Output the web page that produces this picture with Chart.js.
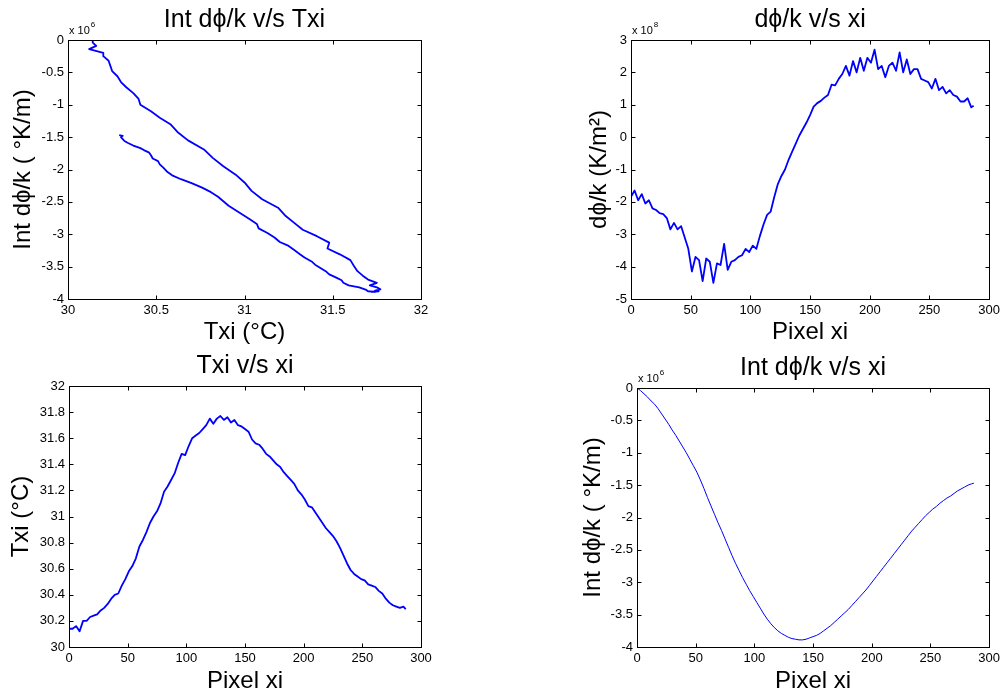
<!DOCTYPE html>
<html>
<head>
<meta charset="utf-8">
<script src="https://cdn.jsdelivr.net/npm/chart.js@4.4.1/dist/chart.umd.min.js"></script>
<style>
  html, body { margin: 0; padding: 0; background: #fff; }
  #page { position: relative; width: 1004px; height: 699px; overflow: hidden; background: #fff; }
  .plot { position: absolute; }
</style>
</head>
<body>
<div id="page">
  <div class="plot" style="left:0;top:0;width:502px;height:360px"><canvas id="c1"></canvas></div>
  <div class="plot" style="left:502px;top:0;width:502px;height:360px"><canvas id="c2"></canvas></div>
  <div class="plot" style="left:0;top:340px;width:502px;height:359px"><canvas id="c3"></canvas></div>
  <div class="plot" style="left:502px;top:340px;width:502px;height:359px"><canvas id="c4"></canvas></div>
</div>
<script>
// Pixel positions along the profile (xi)
var xi = [0, 3, 6, 9, 12, 15, 18, 21, 24, 27,
  30, 33, 36, 39, 42, 45, 48, 51, 54, 57,
  60, 63, 66, 69, 72, 75, 78, 81, 84, 87,
  90, 93, 96, 99, 102, 105, 108, 111, 114, 117,
  120, 123, 126, 129, 132, 135, 138, 141, 144, 147,
  150, 153, 156, 159, 162, 165, 168, 171, 174, 177,
  180, 183, 186, 189, 192, 195, 198, 201, 204, 207,
  210, 213, 216, 219, 222, 225, 228, 231, 234, 237,
  240, 243, 246, 249, 252, 255, 258, 261, 264, 267,
  270, 273, 276, 279, 282, 285, 287];

// Temperature Txi (°C)
var txi = [30.14, 30.14, 30.16, 30.12, 30.2, 30.2, 30.23, 30.24, 30.25, 30.28,
  30.3, 30.33, 30.37, 30.4, 30.41, 30.47, 30.52, 30.58, 30.62, 30.68,
  30.77, 30.82, 30.88, 30.95, 31.0, 31.04, 31.1, 31.19, 31.23, 31.28,
  31.33, 31.41, 31.48, 31.47, 31.54, 31.6, 31.62, 31.64, 31.67, 31.7,
  31.75, 31.71, 31.75, 31.77, 31.74, 31.76, 31.72, 31.74, 31.7, 31.69,
  31.67, 31.65, 31.59, 31.56, 31.55, 31.52, 31.48, 31.46, 31.43, 31.4,
  31.38, 31.34, 31.31, 31.28, 31.25, 31.2, 31.17, 31.13, 31.08, 31.07,
  31.03, 30.99, 30.95, 30.91, 30.88, 30.85, 30.81, 30.76, 30.7, 30.64,
  30.59, 30.56, 30.54, 30.52, 30.51, 30.48, 30.47, 30.46, 30.43, 30.41,
  30.37, 30.34, 30.32, 30.31, 30.3, 30.31, 30.29];

// dphi/k (x 1e8 K/m^2)
var dphi = [-1.84, -1.65, -1.95, -1.76, -2.05, -1.95, -2.2, -2.25, -2.35, -2.38,
  -2.5, -2.85, -2.65, -2.85, -2.75, -3.1, -3.45, -4.15, -3.7, -3.8,
  -4.45, -3.75, -3.85, -4.5, -3.9, -3.95, -3.3, -4.1, -3.85, -3.8,
  -3.7, -3.65, -3.45, -3.55, -3.35, -3.45, -3.05, -2.7, -2.4, -2.3,
  -1.85, -1.45, -1.2, -1.0, -0.7, -0.45, -0.2, 0.05, 0.25, 0.45,
  0.68, 0.94, 1.05, 1.12, 1.22, 1.3, 1.62, 1.6, 1.8, 1.95,
  2.2, 1.9, 2.35, 2.0, 2.45, 2.05, 2.45, 2.3, 2.7, 2.1,
  2.2, 1.85, 2.2, 2.3, 2.05, 2.62, 2.0, 2.4, 1.95, 2.1,
  2.1, 1.8, 1.75, 1.7, 1.5, 1.8, 1.45, 1.55, 1.35, 1.45,
  1.3, 1.25, 1.1, 1.1, 1.2, 0.92, 0.97];

// Integrated dphi/k (x 1e6 °K/m)
var intPhi = [0, -0.04, -0.09, -0.14, -0.2, -0.25, -0.32, -0.4, -0.48, -0.56,
  -0.65, -0.73, -0.82, -0.91, -1.0, -1.1, -1.2, -1.3, -1.42, -1.55,
  -1.69, -1.82, -1.95, -2.08, -2.2, -2.33, -2.46, -2.59, -2.71, -2.82,
  -2.93, -3.03, -3.13, -3.22, -3.31, -3.4, -3.49, -3.57, -3.64, -3.7,
  -3.75, -3.79, -3.82, -3.85, -3.87, -3.88, -3.89, -3.89, -3.88, -3.86,
  -3.84, -3.82, -3.79, -3.75, -3.71, -3.67, -3.62, -3.57, -3.52, -3.47,
  -3.42, -3.36, -3.3, -3.24, -3.18, -3.12, -3.05, -2.98, -2.91, -2.84,
  -2.77, -2.7, -2.63, -2.56, -2.49, -2.42, -2.35, -2.28, -2.21, -2.15,
  -2.09, -2.03, -1.97, -1.92, -1.87, -1.83, -1.78, -1.74, -1.7, -1.67,
  -1.63, -1.59, -1.56, -1.53, -1.5, -1.48, -1.47];

// Tick values
var ticksTxi = [30, 30.5, 31, 31.5, 32];
var ticksInt = [-4, -3.5, -3, -2.5, -2, -1.5, -1, -0.5, 0];
var ticksPixel = [0, 50, 100, 150, 200, 250, 300];
var ticksDphi = [-5, -4, -3, -2, -1, 0, 1, 2, 3];
var ticksTemp = [30, 30.2, 30.4, 30.6, 30.8, 31, 31.2, 31.4, 31.6, 31.8, 32];

var FONT = "'Liberation Sans', Arial, Helvetica, sans-serif";
Chart.defaults.font.family = FONT;
Chart.defaults.color = '#000';

function fmt(v) {
  return String(Math.round(v * 100) / 100);
}

function pairs(xs, ys) {
  return xs.map(function (x, i) { return { x: x, y: ys[i] }; });
}

// MATLAB-like box with inward ticks, title and exponent label
var matlabAxes = {
  id: 'matlabAxes',
  afterDraw: function (chart, args, opts) {
    var ctx = chart.ctx;
    var a = chart.chartArea;
    var xs = chart.scales.x;
    var ys = chart.scales.y;
    var L = Math.round(a.left) + 0.5, R = Math.round(a.right) + 0.5;
    var T = Math.round(a.top) + 0.5, B = Math.round(a.bottom) + 0.5;
    ctx.save();
    ctx.strokeStyle = '#000';
    ctx.lineWidth = 1;
    ctx.beginPath();
    xs.ticks.forEach(function (t) {
      var px = Math.round(xs.getPixelForValue(t.value)) + 0.5;
      ctx.moveTo(px, B); ctx.lineTo(px, B - 4);
      ctx.moveTo(px, T); ctx.lineTo(px, T + 4);
    });
    ys.ticks.forEach(function (t) {
      var py = Math.round(ys.getPixelForValue(t.value)) + 0.5;
      ctx.moveTo(L, py); ctx.lineTo(L + 4, py);
      ctx.moveTo(R, py); ctx.lineTo(R - 4, py);
    });
    ctx.stroke();
    ctx.strokeRect(L, T, R - L, B - T);

    ctx.fillStyle = '#000';
    ctx.font = '25px ' + FONT;
    ctx.textAlign = 'center';
    ctx.textBaseline = 'middle';
    ctx.fillText(opts.title, (a.left + a.right) / 2, a.top - 20);

    if (opts.exp) {
      ctx.textAlign = 'left';
      ctx.textBaseline = 'alphabetic';
      ctx.font = '11px ' + FONT;
      ctx.fillText('x 10', a.left + 1, a.top - 6);
      var w = ctx.measureText('x 10').width;
      ctx.font = '8px ' + FONT;
      ctx.fillText(opts.exp, a.left + 2 + w, a.top - 13);
    }
    ctx.restore();
  }
};

function xAxis(min, max, tickVals, boxHeight, label, padBottom) {
  return {
    type: 'linear',
    position: 'bottom',
    min: min,
    max: max,
    grid: { display: false, drawTicks: false },
    border: { display: false },
    afterBuildTicks: function (scale) {
      scale.ticks = tickVals.map(function (v) { return { value: v }; });
    },
    afterFit: function (scale) { scale.height = boxHeight; },
    ticks: {
      autoSkip: false, maxRotation: 0, minRotation: 0, padding: 4,
      color: '#000', font: { size: 13 },
      callback: function (v) { return fmt(v); }
    },
    title: {
      display: true, text: label, color: '#000',
      font: { size: 24, lineHeight: 1 },
      padding: { top: 0, bottom: padBottom }
    }
  };
}

function yAxis(min, max, tickVals, boxWidth, label, padTop) {
  return {
    type: 'linear',
    position: 'left',
    min: min,
    max: max,
    grid: { display: false, drawTicks: false },
    border: { display: false },
    afterBuildTicks: function (scale) {
      scale.ticks = tickVals.map(function (v) { return { value: v }; });
    },
    afterFit: function (scale) { scale.width = boxWidth; },
    ticks: {
      autoSkip: false, padding: 4,
      color: '#000', font: { size: 13 },
      callback: function (v) { return fmt(v); }
    },
    title: {
      display: true, text: label, color: '#000',
      font: { size: 24, lineHeight: 1 },
      padding: { top: padTop, bottom: 0 }
    }
  };
}

function makePlot(id, points, lineWidth, padding, xOpts, yOpts, title, exp) {
  new Chart(document.getElementById(id), {
    type: 'line',
    data: {
      datasets: [{
        data: points,
        borderColor: '#0000ff',
        borderWidth: lineWidth,
        pointRadius: 0,
        tension: 0,
        fill: false,
        borderJoinStyle: 'round'
      }]
    },
    options: {
      responsive: true,
      maintainAspectRatio: false,
      animation: false,
      layout: { padding: padding },
      plugins: {
        legend: { display: false },
        tooltip: { enabled: false },
        title: { display: false },
        matlabAxes: { title: title, exp: exp }
      },
      scales: { x: xOpts, y: yOpts }
    },
    plugins: [matlabAxes]
  });
}

// Int dphi/k v/s Txi
makePlot('c1', pairs(txi, intPhi), 1.8,
  { left: 0, top: 40, right: 81, bottom: 0 },
  xAxis(30, 32, ticksTxi, 61, 'Txi (°C)', 16),
  yAxis(-4, 0, ticksInt, 68, 'Int dϕ/k ( °K/m)', 11.5),
  'Int dϕ/k v/s Txi', '6');

// dphi/k v/s xi
makePlot('c2', pairs(xi, dphi), 1.8,
  { left: 0, top: 40, right: 14, bottom: 0 },
  xAxis(0, 300, ticksPixel, 61, 'Pixel xi', 16),
  yAxis(-5, 3, ticksDphi, 129, 'dϕ/k (K/m²)', 85.5),
  'dϕ/k v/s xi', '8');

// Txi v/s xi
makePlot('c3', pairs(xi, txi), 1.8,
  { left: 0, top: 46, right: 81, bottom: 0 },
  xAxis(0, 300, ticksPixel, 52, 'Pixel xi', 6),
  yAxis(30, 32, ticksTemp, 69, 'Txi (°C)', 9),
  'Txi v/s xi', null);

// Int dphi/k v/s xi
makePlot('c4', pairs(xi, intPhi), 1,
  { left: 0, top: 48, right: 14, bottom: 0 },
  xAxis(0, 300, ticksPixel, 52, 'Pixel xi', 6),
  yAxis(-4, 0, ticksInt, 135, 'Int dϕ/k ( °K/m)', 79),
  'Int dϕ/k v/s xi', '6');
</script>
</body>
</html>
